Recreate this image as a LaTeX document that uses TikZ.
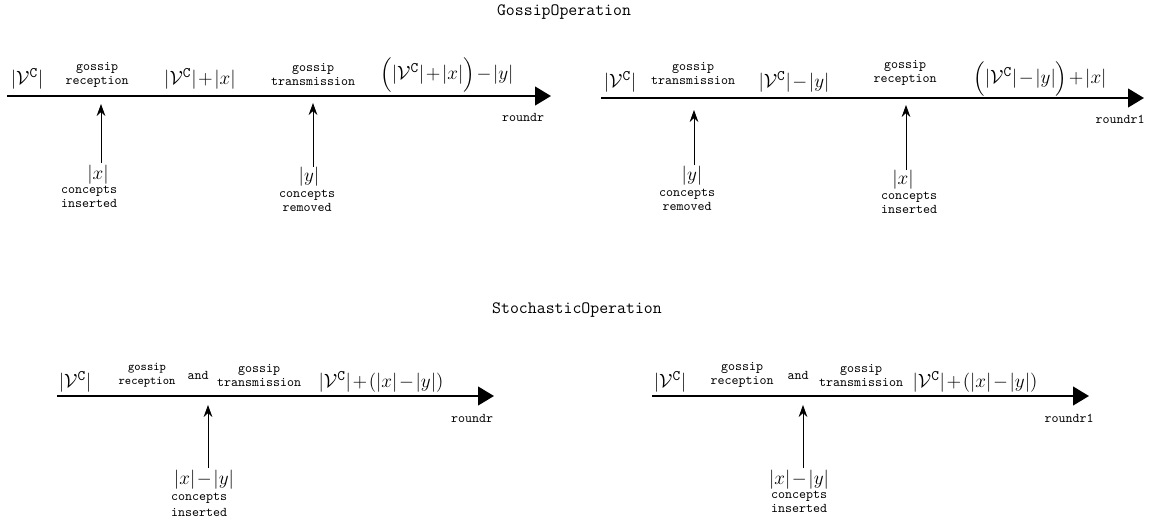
\documentclass[tikz,border=0pt]{standalone}
\usepackage{amsmath}
\usetikzlibrary{arrows.meta}
% tight spacing around + and -
\medmuskip=1.5mu
% cardinality of the concept set, with an upright typewriter C
\newcommand{\Vc}{|\mathcal{V}^{\mbox{\fontsize{10.95}{13}\selectfont\ttfamily C}}|}
\begin{document}
\begin{tikzpicture}[x=0.75pt,y=-0.75pt,
  timeline/.style={line width=1.7pt,-{Triangle[length=12pt,width=14pt]}},
  feed/.style={line width=0.6pt,-{Stealth[length=9pt,width=6.5pt]}},
  ttlbl/.style={font=\fontsize{10}{10.5}\selectfont\ttfamily,align=center,inner sep=0pt},
  ttsmall/.style={font=\fontsize{9}{10.5}\selectfont\ttfamily,align=center,inner sep=0pt},
  mathlbl/.style={font=\fontsize{14.4}{16}\selectfont,inner sep=0pt},
  heading/.style={font=\fontsize{13}{15}\selectfont\ttfamily,inner sep=0pt}]
\useasboundingbox (0,0) rectangle (1149,522);

% ---------------- GossipOperation ----------------
\node[heading] (gtitle) at (564,12) {GossipOperation};

% round r: reception first, then transmission
\coordinate (a0) at (7,96);
\coordinate (a1) at (551,96);
\draw[timeline] (a0) -- (a1);
\node[mathlbl] (aV) at (27,79) {$\Vc$};
\node[ttlbl] (arec) at (97,75) {gossip\\reception};
\node[mathlbl] (aVx) at (200,79) {$\Vc+|x|$};
\node[ttlbl] (atr) at (313,75) {gossip\\transmission};
\node[mathlbl] (aVxy) at (447,75) {$\Bigl(\Vc+|x|\Bigr)-|y|$};
\node[ttlbl] (around) at (523,117) {roundr};
\node[mathlbl] (ax) at (98,175) {$|x|$};
\node[ttlbl] (axt) at (89,197) {concepts\\inserted};
\node[mathlbl] (ay) at (309,177) {$|y|$};
\node[ttlbl] (ayt) at (307,201) {concepts\\removed};
\coordinate (ax0) at (101,163);
\coordinate (ax1) at (101,104);
\coordinate (ay0) at (313,167);
\coordinate (ay1) at (313,103);
\draw[feed] (ax0) -- (ax1);
\draw[feed] (ay0) -- (ay1);

% round r+1: transmission first, then reception
\coordinate (b0) at (601,98);
\coordinate (b1) at (1144,98);
\draw[timeline] (b0) -- (b1);
\node[mathlbl] (bV) at (620,82) {$\Vc$};
\node[ttlbl] (btr) at (693,74) {gossip\\transmission};
\node[mathlbl] (bVy) at (794,82) {$\Vc-|y|$};
\node[ttlbl] (brec) at (905,73) {gossip\\reception};
\node[mathlbl] (bVyx) at (1040,79) {$\Bigl(\Vc-|y|\Bigr)+|x|$};
\node[ttlbl] (bround) at (1120,119) {roundr1};
\node[mathlbl] (by) at (692,176) {$|y|$};
\node[ttlbl] (byt) at (687,200) {concepts\\removed};
\node[mathlbl] (bx) at (903,180) {$|x|$};
\node[ttlbl] (bxt) at (909,203) {concepts\\inserted};
\coordinate (by0) at (694,165);
\coordinate (by1) at (694,110);
\coordinate (bx0) at (906,170);
\coordinate (bx1) at (906,105);
\draw[feed] (by0) -- (by1);
\draw[feed] (bx0) -- (bx1);

% ---------------- StochasticOperation ----------------
\node[heading] (stitle) at (577,310) {StochasticOperation};

\coordinate (c0) at (57,396);
\coordinate (c1) at (494,396);
\draw[timeline] (c0) -- (c1);
\node[mathlbl] (cV) at (75,382) {$\Vc$};
\node[ttsmall] (crec) at (147,375) {gossip\\reception};
\node[ttlbl] (cand) at (198,375) {and};
\node[ttlbl] (ctr) at (259,375) {gossip\\transmission};
\node[mathlbl] (cVxy) at (381,382) {$\Vc+(|x|-|y|)$};
\node[ttlbl] (cround) at (472,418) {roundr};
\node[mathlbl] (cxy) at (204,480) {$|x|-|y|$};
\node[font=\fontsize{10}{12}\selectfont\ttfamily,align=center,inner sep=0pt] (cxyt) at (199,505) {concepts\\inserted};
\coordinate (cz0) at (208,468);
\coordinate (cz1) at (208,405);
\draw[feed] (cz0) -- (cz1);

\coordinate (d0) at (652,396);
\coordinate (d1) at (1089,396);
\draw[timeline] (d0) -- (d1);
\node[mathlbl] (dV) at (670,382) {$\Vc$};
\node[ttlbl] (drec) at (742,375) {gossip\\reception};
\node[ttlbl] (dand) at (798,375) {and};
\node[ttlbl] (dtr) at (861,375) {gossip\\transmission};
\node[mathlbl] (dVxy) at (975,382) {$\Vc+(|x|-|y|)$};
\node[ttlbl] (dround) at (1069,418) {roundr1};
\node[mathlbl] (dxy) at (799,480) {$|x|-|y|$};
\node[ttlbl] (dxyt) at (799,502) {concepts\\inserted};
\coordinate (dz0) at (803,468);
\coordinate (dz1) at (803,405);
\draw[feed] (dz0) -- (dz1);
\end{tikzpicture}
\end{document}
